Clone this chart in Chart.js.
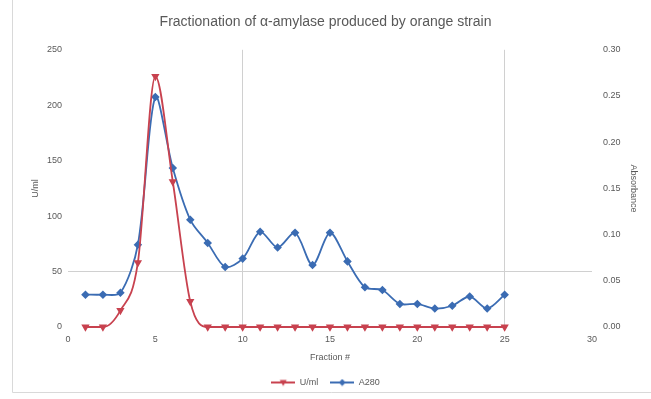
<!DOCTYPE html>
<html>
<head>
<meta charset="utf-8">
<script src="https://cdn.jsdelivr.net/npm/chart.js@4/dist/chart.umd.min.js"></script>
<style>
  html, body { margin: 0; padding: 0; background: #ffffff; }
  #wrap { position: relative; width: 651px; height: 399px; }
  canvas { display: block; }
</style>
</head>
<body>
<div id="wrap"><canvas id="chart" width="651" height="399"></canvas></div>
<script>
// Fraction numbers collected from the column
const fractions = [1, 2, 3, 4, 5, 6, 7, 8, 9, 10, 11, 12, 13, 14, 15, 16, 17, 18, 19, 20, 21, 22, 23, 24, 25];
// Enzyme activity per fraction (left axis)
const activity = [0, 0, 15, 58, 226, 131, 23, 0, 0, 0, 0, 0, 0, 0, 0, 0, 0, 0, 0, 0, 0, 0, 0, 0, 0];
// Protein absorbance per fraction (right axis)
const absorbance = [0.035, 0.035, 0.037, 0.089, 0.249, 0.172, 0.116, 0.091, 0.065, 0.074, 0.103, 0.086, 0.102, 0.067, 0.102, 0.071, 0.043, 0.040, 0.025, 0.025, 0.020, 0.023, 0.033, 0.020, 0.035];
// Axis tick values
const xTicks = [0, 5, 10, 15, 20, 25, 30];
const leftTicks = [0, 50, 100, 150, 200, 250];
const rightTicks = [0, 0.05, 0.10, 0.15, 0.20, 0.25, 0.30];
// Reference lines drawn across the plot
const xMarks = [10, 25];
const leftMarks = [50];

const textGray = '#595959';
const lineGray = '#d0d0d0';
const red = '#c8424f';
const blue = '#3b6cb3';
const font9 = { family: 'Liberation Sans, Arial, sans-serif', size: 9 };

const toPoints = (xs, ys) => xs.map((x, i) => ({ x: x, y: ys[i] }));

// Legend swatch: a short line with the series marker in the middle
function swatch(color, shape) {
  const c = document.createElement('canvas');
  c.width = 24; c.height = 8;
  const g = c.getContext('2d');
  g.strokeStyle = color; g.fillStyle = color; g.lineWidth = 2;
  g.beginPath(); g.moveTo(0, 4); g.lineTo(24, 4); g.stroke();
  g.beginPath();
  if (shape === 'down') {
    g.moveTo(8.5, 1.5); g.lineTo(15.5, 1.5); g.lineTo(12, 7.5);
  } else {
    g.moveTo(12, 0.5); g.lineTo(15.5, 4); g.lineTo(12, 7.5); g.lineTo(8.5, 4);
  }
  g.closePath(); g.fill();
  return c;
}
const swatches = [swatch(red, 'down'), swatch(blue, 'diamond')];

// Thin frame edge on the left and bottom of the chart box
const framePlugin = {
  id: 'frame',
  beforeDraw(chart) {
    const ctx = chart.ctx;
    ctx.save();
    ctx.strokeStyle = '#d9d9d9';
    ctx.lineWidth = 1;
    ctx.beginPath();
    ctx.moveTo(12.5, 0);
    ctx.lineTo(12.5, 392.5);
    ctx.lineTo(651, 392.5);
    ctx.stroke();
    ctx.restore();
  }
};

new Chart(document.getElementById('chart'), {
  type: 'line',
  data: {
    datasets: [
      {
        label: 'U/ml',
        data: toPoints(fractions, activity),
        yAxisID: 'y',
        borderColor: red,
        backgroundColor: red,
        borderWidth: 1.8,
        pointStyle: 'triangle',
        rotation: 180,
        pointRadius: 3,
        pointHoverRadius: 3,
        tension: 0.4,
        cubicInterpolationMode: 'monotone',
        clip: false,
        fill: false
      },
      {
        label: 'A280',
        data: toPoints(fractions, absorbance),
        yAxisID: 'y1',
        borderColor: blue,
        backgroundColor: blue,
        borderWidth: 1.8,
        pointStyle: 'rectRot',
        pointRadius: 3,
        pointHoverRadius: 3,
        tension: 0.3,
        clip: false,
        fill: false
      }
    ]
  },
  options: {
    responsive: false,
    animation: false,
    events: [],
    layout: { padding: { left: 0, right: 0, top: 0, bottom: 2 } },
    plugins: {
      title: {
        display: true,
        text: 'Fractionation of α-amylase produced by orange strain',
        color: textGray,
        font: { family: 'Liberation Sans, Arial, sans-serif', size: 14, weight: 'normal' },
        padding: { top: 14, bottom: 19 }
      },
      legend: {
        display: true,
        position: 'bottom',
        labels: {
          color: textGray,
          font: font9,
          usePointStyle: true,
          pointStyleWidth: 24,
          boxHeight: 8,
          padding: 12,
          generateLabels(chart) {
            return chart.data.datasets.map((ds, i) => ({
              text: ds.label,
              fillStyle: ds.borderColor,
              strokeStyle: ds.borderColor,
              fontColor: textGray,
              lineWidth: 0,
              pointStyle: swatches[i],
              hidden: false,
              datasetIndex: i
            }));
          }
        }
      },
      tooltip: { enabled: false }
    },
    scales: {
      x: {
        type: 'linear',
        min: 0,
        max: 30,
        afterBuildTicks(scale) { scale.ticks = xTicks.map(v => ({ value: v })); },
        afterFit(scale) { scale.height = 39; },
        ticks: { color: textGray, font: font9, padding: 7, maxRotation: 0 },
        grid: {
          drawTicks: false,
          color: ctx => (ctx.tick && xMarks.includes(ctx.tick.value)) ? lineGray : 'rgba(0,0,0,0)',
          lineWidth: 1
        },
        border: { display: false },
        title: {
          display: true,
          text: 'Fraction #',
          color: textGray,
          font: font9,
          padding: { top: 2, bottom: 3 }
        }
      },
      y: {
        type: 'linear',
        position: 'left',
        min: 0,
        max: 250,
        afterBuildTicks(scale) { scale.ticks = leftTicks.map(v => ({ value: v })); },
        afterFit(scale) { scale.width = 68; },
        ticks: { color: textGray, font: font9, padding: 6 },
        grid: {
          drawTicks: false,
          color: ctx => (ctx.tick && leftMarks.includes(ctx.tick.value)) ? lineGray : 'rgba(0,0,0,0)',
          lineWidth: 1
        },
        border: { display: false },
        title: {
          display: true,
          text: 'U/ml',
          color: textGray,
          font: font9,
          padding: { top: 30, bottom: 0 }
        }
      },
      y1: {
        type: 'linear',
        position: 'right',
        min: 0,
        max: 0.30,
        afterBuildTicks(scale) { scale.ticks = rightTicks.map(v => ({ value: v })); },
        afterFit(scale) { scale.width = 59; },
        ticks: {
          color: textGray,
          font: font9,
          padding: 11,
          callback: v => Number(v).toFixed(2)
        },
        grid: { display: false, drawTicks: false },
        border: { display: false },
        title: {
          display: true,
          text: 'Absorbance',
          color: textGray,
          font: font9,
          padding: { top: 12, bottom: 0 }
        }
      }
    }
  },
  plugins: [framePlugin]
});
</script>
</body>
</html>
